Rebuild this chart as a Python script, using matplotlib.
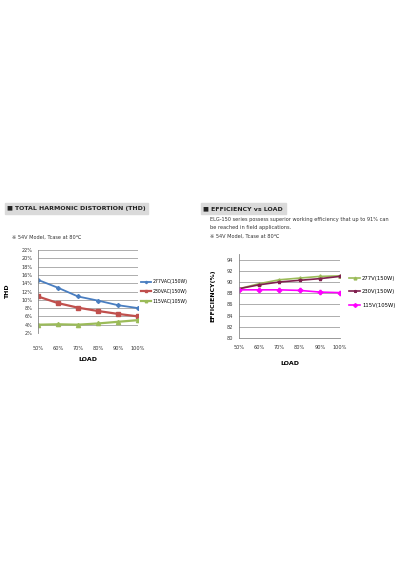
import matplotlib.pyplot as plt
from matplotlib.patches import Rectangle

plt.rcParams['font.family'] = ['DejaVu Sans', 'Noto Sans CJK JP']

loads = ['50%', '60%', '70%', '80%', '90%', '100%']

# THD (%)
thd_277 = [14.8, 12.9, 10.8, 9.8, 8.7, 8.0]
thd_230 = [10.8, 9.2, 8.1, 7.3, 6.6, 6.0]
thd_115 = [4.0, 4.1, 4.0, 4.3, 4.7, 5.1]
thd_labels = ['277VAC(150W)', '230VAC(150W)', '115VAC(105W)']
thd_ticks = [2, 4, 6, 8, 10, 12, 14, 16, 18, 20, 22]

# efficiency (%)
eff_277 = [88.8, 89.7, 90.4, 90.7, 91.0, 91.1]
eff_230 = [88.8, 89.5, 90.0, 90.3, 90.6, 91.0]
eff_115 = [88.6, 88.6, 88.6, 88.5, 88.2, 88.1]
eff_labels = ['277V(150W)', '230V(150W)', '115V(105W)']
eff_ticks = [80, 82, 84, 86, 88, 90, 92, 94]

W, H = 400, 567
fig = plt.figure(figsize=(4, 5.67), dpi=100)

def fx(px):
    return px / W

def fy(py):
    return 1 - py / H

x = list(range(len(loads)))
tick_fs = 3.6

# ---- THD chart ----
ax1 = fig.add_axes([fx(38), fy(333), fx(138) - fx(38), fy(250) - fy(333)])
ax1.plot(x, thd_277, color='#4A7EC0', marker='D', markersize=2, lw=1.3, label=thd_labels[0])
ax1.plot(x, thd_230, color='#C0504D', marker='s', markersize=3, lw=1.6, label=thd_labels[1])
ax1.plot(x, thd_115, color='#9BBB59', marker='^', markersize=3, lw=1.6, label=thd_labels[2])
ax1.set_ylim(2, 22)
ax1.set_yticks(thd_ticks)
ax1.set_yticklabels([f'{t}%' for t in thd_ticks])
ax1.set_xlim(0, 5)
ax1.set_xticks(x)
ax1.set_xticklabels(loads)
ax1.grid(axis='y', color='#A0A0A0', lw=0.6)
ax1.set_axisbelow(True)
for s in ['top', 'right', 'bottom']:
    ax1.spines[s].set_visible(False)
ax1.spines['left'].set_color('#888888')
ax1.spines['left'].set_linewidth(0.6)
ax1.tick_params(axis='both', labelsize=tick_fs, length=0, colors='#333333')
ax1.tick_params(axis='x', pad=9)
ax1.tick_params(axis='y', pad=4)
ax1.set_xlabel('LOAD', fontsize=4.5, fontweight='bold', labelpad=5)
ax1.set_ylabel('THD', fontsize=4.5, fontweight='bold', labelpad=8)
ax1.legend(loc='center left', bbox_to_anchor=(0.99, 0.5), frameon=False,
           fontsize=3.3, handlelength=2.2, markerscale=0.6, labelspacing=1.0,
           handletextpad=0.3)

# ---- efficiency chart ----
ax2 = fig.add_axes([fx(239), fy(338), fx(340) - fx(239), fy(254) - fy(338)])
ax2.plot(x, eff_277, color='#9BBB59', marker='^', markersize=2.5, lw=1.2, label=eff_labels[0])
ax2.plot(x, eff_230, color='#80204F', marker='*', markersize=2.5, lw=1.2, label=eff_labels[1])
ax2.plot(x, eff_115, color='#FF00FF', marker='P', markersize=3, lw=1.2, label=eff_labels[2])
ax2.set_ylim(80, 95)
ax2.set_yticks(eff_ticks)
ax2.set_xlim(0, 5)
ax2.set_xticks(x)
ax2.set_xticklabels(loads)
ax2.grid(axis='y', color='#A0A0A0', lw=0.6)
ax2.set_axisbelow(True)
for s in ['top', 'right']:
    ax2.spines[s].set_visible(False)
for s in ['left', 'bottom']:
    ax2.spines[s].set_color('#888888')
    ax2.spines[s].set_linewidth(0.6)
ax2.tick_params(axis='both', labelsize=tick_fs, length=0, colors='#333333')
ax2.tick_params(axis='x', pad=5)
ax2.tick_params(axis='y', pad=4)
ax2.set_xlabel('LOAD', fontsize=4.5, fontweight='bold', labelpad=8)
ax2.set_ylabel('EFFICIENCY(%)', fontsize=4.5, fontweight='bold', labelpad=8)
ax2.legend(loc='center left', bbox_to_anchor=(1.04, 0.55), frameon=False,
           fontsize=3.8, handlelength=2.2, markerscale=0.8, labelspacing=1.6,
           handletextpad=0.3)

# ---- headers ----
fig.patches.append(Rectangle((fx(5), fy(214)), fx(148) - fx(5), fy(203) - fy(214),
                             transform=fig.transFigure, color='#DADADA', zorder=0))
fig.text(fx(7), fy(208.5), '■ TOTAL HARMONIC DISTORTION (THD)', fontsize=4.5,
         fontweight='bold', va='center', color='#222222')
fig.patches.append(Rectangle((fx(201), fy(214)), fx(286) - fx(201), fy(203) - fy(214),
                             transform=fig.transFigure, color='#DADADA', zorder=0))
fig.text(fx(203), fy(208.5), '■ EFFICIENCY vs LOAD', fontsize=4.5,
         fontweight='bold', va='center', color='#222222')

fig.text(fx(12), fy(237), '※ 54V Model, Tcase at 80℃', fontsize=3.6, va='center', color='#333333')
fig.text(fx(210), fy(219.5), 'ELG-150 series possess superior working efficiency that up to 91% can',
         fontsize=3.65, va='center', color='#333333')
fig.text(fx(210), fy(228), 'be reached in field applications.', fontsize=3.65, va='center', color='#333333')
fig.text(fx(210), fy(236.5), '※ 54V Model, Tcase at 80℃', fontsize=3.65, va='center', color='#333333')

fig.savefig('out.png', dpi=100)
